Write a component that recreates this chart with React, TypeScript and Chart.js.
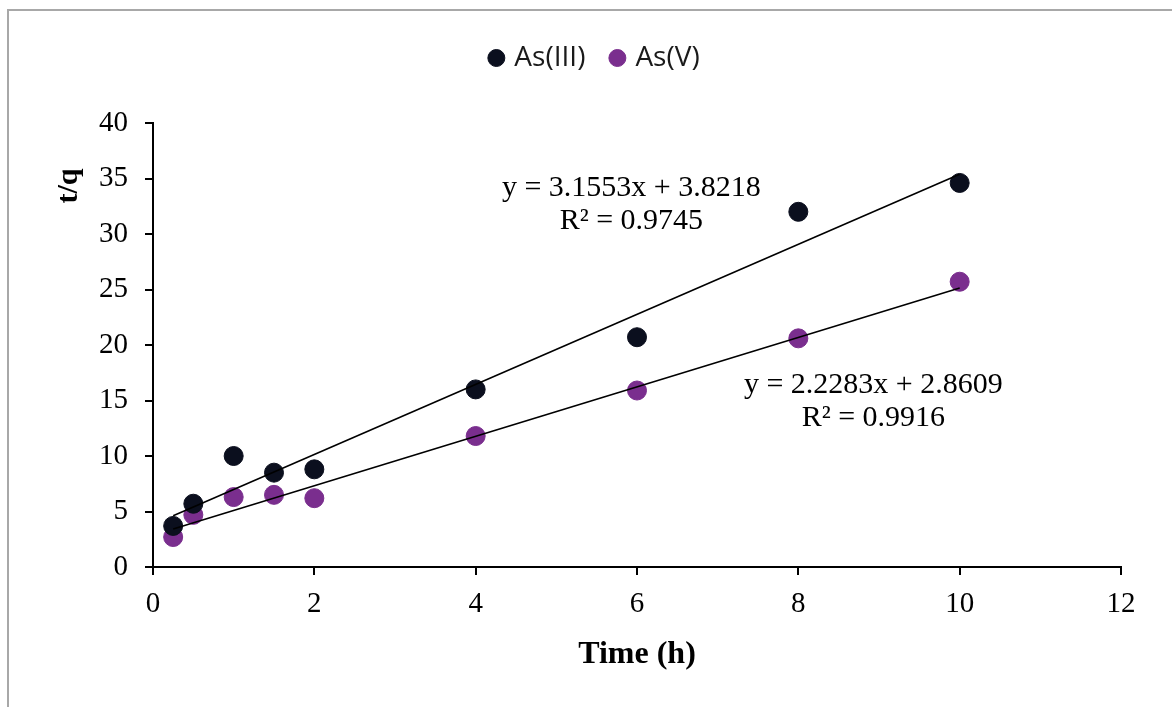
import React, { useEffect, useRef } from "react";
import { Chart, registerables } from "chart.js";

Chart.register(...registerables);

// ---- data ----
const timeHours = [0.25, 0.5, 1, 1.5, 2, 4, 6, 8, 10];
const asIIIValues = [3.7, 5.7, 10.0, 8.5, 8.8, 16.0, 20.7, 32.0, 34.6];
const asVValues = [2.7, 4.7, 6.3, 6.5, 6.2, 11.8, 15.9, 20.6, 25.7];
const seriesNames = ["As(III)", "As(V)"];
const seriesColors = ["#0b0f1e", "#7a2e8e"];

// linear trendlines as printed on the chart
const fitSlopes = [3.1553, 2.2283];
const fitIntercepts = [3.8218, 2.8609];
const fitR2 = [0.9745, 0.9916];
const fitRange = [0.25, 10];
// label anchors (data units): x centre, y of first line
const labelAnchorX = [5.93, 8.93];
const labelAnchorY = [34.1, 16.4];

const xAxisTitle = "Time (h)";
const yAxisTitle = "t/q";
const xMin = 0, xMax = 12, xStep = 2;
const yMin = 0, yMax = 40, yStep = 5;

const SERIF = "'Liberation Serif', 'Times New Roman', serif";
const SANS = "'Open Sans', Lato, 'Liberation Sans', Arial, sans-serif";

const fmt = (v: number) => v.toFixed(4);

const decorPlugin = {
  id: "decor",
  beforeDraw(chart: any) {
    const { ctx, width, height } = chart;
    ctx.save();
    ctx.fillStyle = "#ffffff";
    ctx.fillRect(0, 0, width, height);
    ctx.strokeStyle = "#a8a8a8";
    ctx.lineWidth = 2;
    ctx.strokeRect(8, 10, width + 40, height + 40);
    ctx.restore();
  },
  afterDraw(chart: any) {
    const { ctx, chartArea } = chart;
    const xs = chart.scales.x;
    const ys = chart.scales.y;
    ctx.save();
    // y-axis title (placed near the top, as in the reference)
    ctx.font = `bold 30px ${SERIF}`;
    ctx.fillStyle = "#000";
    ctx.textAlign = "center";
    ctx.textBaseline = "middle";
    ctx.translate(69, chartArea.top + 63);
    ctx.rotate(-Math.PI / 2);
    ctx.fillText(yAxisTitle, 0, 0);
    ctx.restore();

    // trendline equations
    ctx.save();
    ctx.font = `30px ${SERIF}`;
    ctx.fillStyle = "#000";
    ctx.textAlign = "center";
    ctx.textBaseline = "middle";
    for (let i = 0; i < fitSlopes.length; i++) {
      const px = xs.getPixelForValue(labelAnchorX[i]);
      const py = ys.getPixelForValue(labelAnchorY[i]);
      ctx.fillText(`y = ${fmt(fitSlopes[i])}x + ${fmt(fitIntercepts[i])}`, px, py);
      ctx.fillText(`R² = ${fmt(fitR2[i])}`, px, py + 33);
    }
    ctx.restore();
  },
};

export default function App() {
  const canvasRef = useRef<HTMLCanvasElement | null>(null);

  useEffect(() => {
    if (!canvasRef.current) return;
    const pointSets = [asIIIValues, asVValues].map((vals, s) => ({
      type: "scatter" as const,
      label: seriesNames[s],
      data: timeHours.map((t, i) => ({ x: t, y: vals[i] })),
      backgroundColor: seriesColors[s],
      borderColor: seriesColors[s],
      pointBackgroundColor: seriesColors[s],
      pointBorderColor: seriesColors[s],
      pointBorderWidth: 1,
      pointRadius: 9.5,
      pointStyle: "circle",
      showLine: false,
      order: 2,
    }));
    const trendSets = fitSlopes.map((m, s) => ({
      type: "scatter" as const,
      label: `fit ${seriesNames[s]}`,
      data: fitRange.map((x) => ({ x, y: m * x + fitIntercepts[s] })),
      borderColor: "#000",
      backgroundColor: "#000",
      borderWidth: 1.6,
      pointRadius: 0,
      showLine: true,
      order: 1,
    }));

    const chart = new Chart(canvasRef.current, {
      type: "scatter",
      data: { datasets: [...pointSets, ...trendSets] as any },
      options: {
        animation: false,
        responsive: true,
        maintainAspectRatio: false,
        layout: { padding: { top: 16, right: 51, bottom: 0, left: 71 } },
        plugins: {
          tooltip: { enabled: false },
          legend: {
            position: "top",
            labels: {
              filter: (item: any) => item.datasetIndex < 2,
              usePointStyle: true,
              boxWidth: 8,
              boxHeight: 12,
              padding: 28,
              color: "#1a1a1a",
              font: { family: SANS, size: 28 },
            },
          },
          // empty spacer between legend and plot area
          subtitle: {
            display: true,
            text: "",
            position: "top",
            weight: 500,
            font: { size: 10, lineHeight: 1.2 },
            padding: { top: 0, bottom: 29 },
          },
        },
        scales: {
          x: {
            type: "linear",
            min: xMin,
            max: xMax,
            ticks: {
              stepSize: xStep,
              color: "#000",
              padding: 12,
              font: { family: SERIF, size: 29 },
            },
            grid: {
              drawOnChartArea: false,
              drawTicks: true,
              tickLength: 8,
              color: "#000",
              lineWidth: 2,
            },
            border: { color: "#000", width: 2 },
            title: {
              display: true,
              text: xAxisTitle,
              color: "#000",
              font: { family: SERIF, size: 32, weight: "bold" },
              padding: { top: 0, bottom: 33 },
            },
            afterFit: (scale: any) => {
              scale.height = 140;
            },
          },
          y: {
            type: "linear",
            min: yMin,
            max: yMax,
            ticks: {
              stepSize: yStep,
              color: "#000",
              padding: 17,
              font: { family: SERIF, size: 29 },
            },
            grid: {
              drawOnChartArea: false,
              drawTicks: true,
              tickLength: 8,
              color: "#000",
              lineWidth: 2,
            },
            border: { color: "#000", width: 2 },
            afterFit: (scale: any) => {
              scale.width = 82;
            },
          },
        },
      } as any,
      plugins: [decorPlugin],
    });
    return () => chart.destroy();
  }, []);

  return (
    <div
      style={{
        position: "fixed",
        left: 0,
        top: 0,
        width: 1172,
        height: 707,
        background: "#fff",
      }}
    >
      <canvas ref={canvasRef} />
    </div>
  );
}
